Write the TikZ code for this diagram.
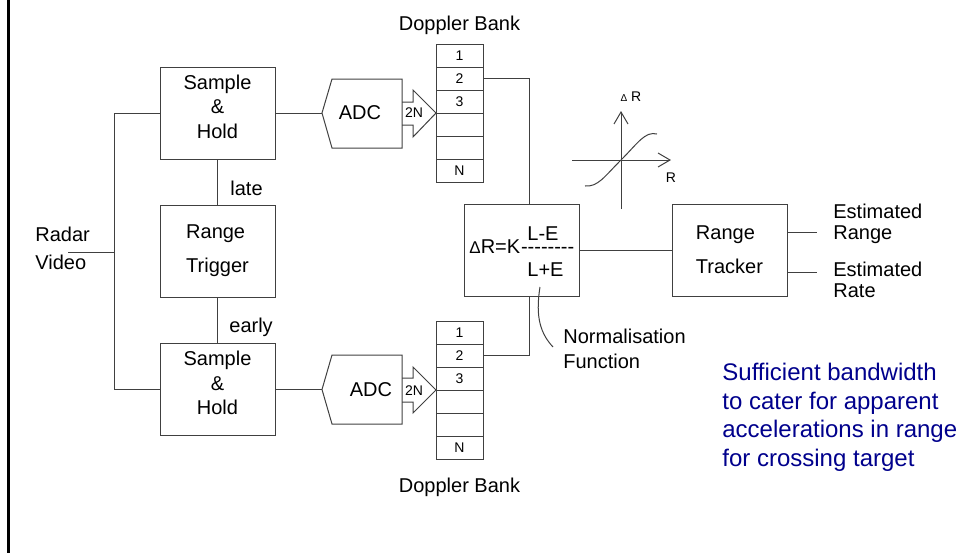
\documentclass[tikz,border=0pt]{standalone}
\usepackage{fontspec}
\setmainfont{Liberation Sans}
\newfontfamily\rawsans{Liberation Sans}
\usetikzlibrary{positioning, calc, arrows.meta}
\definecolor{wiregray}{RGB}{64,64,64}
\definecolor{notenavy}{RGB}{0,0,140}

\begin{document}
\begin{tikzpicture}[
    x=0.5pt, y=-0.5pt,
    wire/.style={draw=wiregray, line width=0.5pt},
    block/.style={rectangle, draw=wiregray, line width=0.5pt, inner sep=0pt,
        minimum width=57.5pt, minimum height=46pt, align=center,
        font=\fontsize{10}{12}\selectfont},
    shold/.style={block, font=\fontsize{10}{12.25}\selectfont, text depth=6.5pt},
    twoline/.style={block, align=left, font=\fontsize{10}{17}\selectfont},
    cell/.style={rectangle, draw=wiregray, line width=0.5pt, inner sep=0pt,
        minimum width=23.5pt, minimum height=11.5pt, font=\fontsize{7}{8}\selectfont},
    txt/.style={inner sep=0pt, align=left, font=\fontsize{10}{12}\selectfont},
    small/.style={inner sep=0pt, font=\fontsize{7}{8}\selectfont},
    axis/.style={wire, -{Straight Barb[length=6pt, width=7pt]}}
]
\useasboundingbox (0,0) rectangle (960,553);
\draw[line width=1.5pt] (8,0) -- (8,553);

\node[shold] (shU) at (217.5,113) {Sample\\\&\\Hold};
\node[twoline] (trig) at (217.5,251) {Range\\Trigger};
\node[shold] (shL) at (217.5,389.5) {Sample\\\&\\Hold};

\node[txt, anchor=north west, font=\fontsize{10}{14}\selectfont] (radar) at (35,227) {Radar\\Video};
\coordinate (radarIn) at (68,252);
\coordinate (bus) at (114,252);
\draw[wire] (radarIn) -- (bus);
\draw[wire] (shU.west) -- (shU.west -| bus) -- (shL.west -| bus) -- (shL.west);

\draw[wire] (shU) -- (trig);
\draw[wire] (trig) -- (shL);
\node[txt, anchor=base west] (late) at (230,195) {late};
\node[txt, anchor=base west] (early) at (229,332) {early};

\draw[wire] (332,79) -- (322,113) coordinate (adcUin) -- (332,148) -- (402,148) -- (402,79) -- cycle;
\node[txt] (adcU) at (360,113) {ADC};
\draw[wire] (402,102) -- (413,102) -- (413,90) -- (436,113) -- (413,137) -- (413,125) -- (402,125);
\node[small] (bitsU) at (414,113) {2N};
\draw[wire] (shU.east) -- (adcUin);

\draw[wire] (332,355) -- (322,389.5) coordinate (adcLin) -- (332,424) -- (402,424) -- (402,355) -- cycle;
\node[txt] (adcL) at (371,390) {ADC};
\draw[wire] (402,378) -- (413,378) -- (413,367) -- (436,390) -- (413,413) -- (413,402) -- (402,402);
\node[small] (bitsL) at (414,391) {2N};
\draw[wire] (shL.east) -- (adcLin);

\foreach \lab [count=\i] in {1,2,3,{},{},N} {
    \node[cell] (bankU-\i) at (459.5,{32.5+23*\i}) {\lab};
    \node[cell] (bankL-\i) at (459.5,{309.5+23*\i}) {\lab};
}
\node[txt, above=4pt of bankU-1] (bankUlab) {Doppler Bank};
\node[txt, below=9pt of bankL-6] (bankLlab) {Doppler Bank};

\node[block] (norm) at (521.5,250) {};
\node[txt, anchor=base west] (fLeft) at (469,253) {{\fontsize{8.5}{9}\selectfont Δ}R=K};
\node[txt, anchor=base west] (fBar) at (fLeft.base east) {\rawsans -{}-{}-{}-{}-{}-{}-{}-};
\node[txt, anchor=base west] (fTop) at (527,240.5) {L-E};
\node[txt, anchor=base west] (fBot) at (527,276) {L+E};
\draw[wire] (bankU-2.east) -| ([xshift=3.75pt]norm.north);
\draw[wire] (bankL-2.east) -| ([xshift=3.75pt]norm.south);

\coordinate (normTip) at (540,287);
\coordinate (normEnd) at (553,347);
\node[txt, anchor=north west, font=\fontsize{10}{12.5}\selectfont] (normLab) at (563,329) {Normalisation\\Function};
\draw[wire] (normTip) .. controls (535,318) and (541,334) .. (normEnd);

\coordinate (origin) at (621,160);
\draw[axis] (621,209) -- (621,111);
\draw[axis] (572,160) -- (671,160);
\draw[wire] (585,186) .. controls (598,187) and (604,177) .. (origin) .. controls (638,143) and (645,131) .. (657,134);
\node[small] (axDR) at (631,97) {{\fontsize{5}{6}\selectfont Δ} R};
\node[small] (axR) at (671,178) {R};

\node[twoline] (track) at (729.5,250) {Range\\Tracker};
\draw[wire] (norm) -- (track);
\coordinate (outRange) at (817,232);
\coordinate (outRate) at (817,272);
\draw[wire] (outRange -| track.east) -- (outRange);
\draw[wire] (outRate -| track.east) -- (outRate);
\node[txt, anchor=north west, font=\fontsize{10}{10.5}\selectfont] (estRange) at (833,204) {Estimated\\Range};
\node[txt, anchor=north west, font=\fontsize{10}{10.5}\selectfont] (estRate) at (833,262) {Estimated\\Rate};

\node[txt, anchor=north west, text=notenavy, font=\fontsize{12}{14.25}\selectfont] (note) at (722,363)
    {Sufficient bandwidth\\to cater for apparent\\accelerations in range\\for crossing target};
\end{tikzpicture}
\end{document}
